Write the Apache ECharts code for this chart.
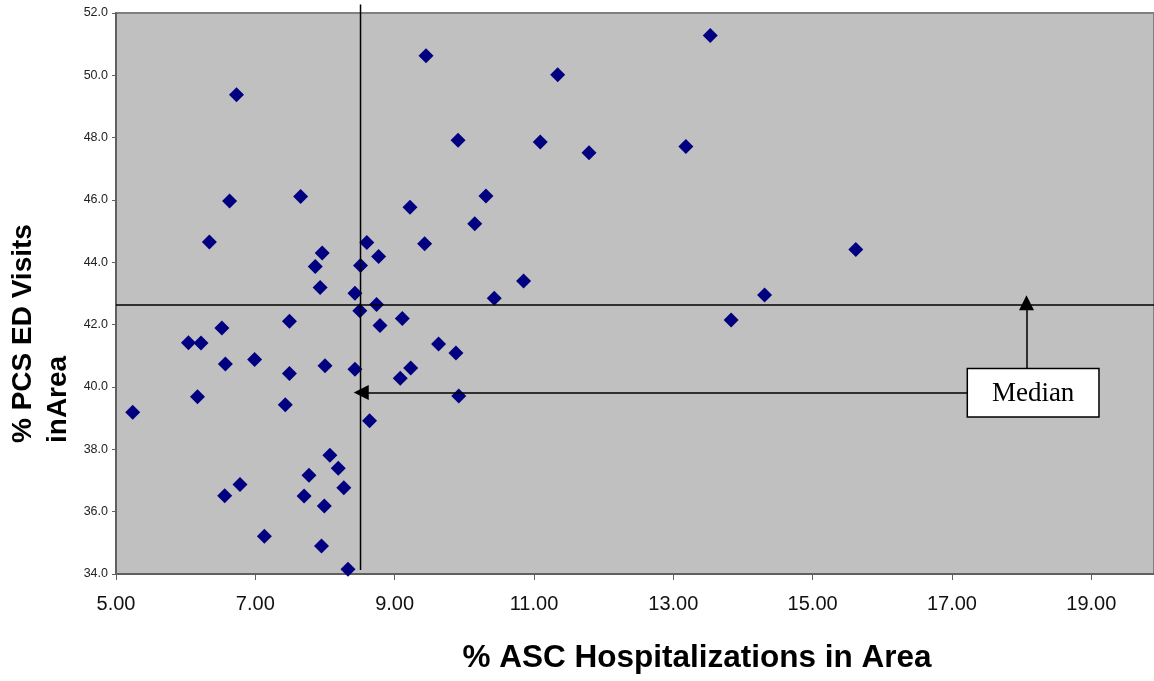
<!DOCTYPE html>
<html>
<head>
<meta charset="utf-8">
<script src="https://cdn.jsdelivr.net/npm/echarts@6/dist/echarts.min.js"></script>
<style>html,body{margin:0;padding:0;background:#fff;}#c{width:1154px;height:681px;}</style>
</head>
<body>
<div id="c"></div>
<script>
const xVals = [6.73,6.63,7.65,6.34,7.96,7.86,7.93,8.60,8.51,8.77,8.43,13.53,9.45,11.34,9.91,11.09,11.79,13.18,10.31,9.22,
  10.15,9.43,10.85,14.31,10.43,15.62,8.74,8.50,8.79,7.49,6.52,6.04,6.22,6.57,6.99,8.00,8.43,7.49,9.08,6.17,
  5.24,7.43,8.64,8.07,8.19,7.77,6.78,6.56,7.70,8.27,7.99,7.13,7.95,8.33,9.11,9.63,9.88,9.23,9.92,13.83];
const yVals = [49.38,45.97,46.11,44.65,44.30,43.87,43.19,44.64,43.90,44.19,43.01,51.28,50.63,50.02,47.92,47.86,47.52,47.72,46.13,45.77,
  45.24,44.60,43.40,42.95,42.85,44.41,42.65,42.45,41.97,42.11,41.89,41.42,41.41,40.74,40.88,40.68,40.57,40.43,40.28,39.69,
  39.19,39.43,38.92,37.81,37.39,37.17,36.87,36.51,36.50,36.77,36.18,35.21,34.90,34.15,42.20,41.38,41.09,40.61,39.71,42.15];
const medianX = 8.51;
const medianY = 42.645;
const xMin = 5, xMax = 19.9, xStep = 2;
const yMin = 34, yMax = 52, yStep = 2;
const xAxisTitle = '% ASC Hospitalizations in Area';
const yAxisTitle = '% PCS ED Visits\ninArea';
const noteText = 'Median';
// annotation anchors in data coordinates
const noteBox = {x1: 17.22, x2: 19.11, y1: 40.59, y2: 39.04};
const hArrow = {from: [17.22, 39.82], to: [8.52, 39.82]};
const vArrow = {from: [18.07, 40.59], to: [18.07, 42.70]};

const points = xVals.map((x, i) => [x, yVals[i]]);
const FONT = "'Liberation Sans', Arial, sans-serif";

const chart = echarts.init(document.getElementById('c'), null, {renderer: 'canvas'});
chart.setOption({
  backgroundColor: '#ffffff',
  animation: false,
  grid: {left: 116, top: 13, bottom: 107, right: 0, show: true,
    backgroundColor: '#c0c0c0', borderColor: '#808080', borderWidth: 2},
  xAxis: {type: 'value', min: xMin, max: xMax, interval: xStep,
    axisLine: {show: true, onZero: false, lineStyle: {color: '#606060', width: 2}},
    axisTick: {show: true, inside: false, length: 6, lineStyle: {color: '#606060', width: 1}},
    axisLabel: {margin: 20, fontSize: 20, color: '#111', fontFamily: FONT, showMaxLabel: false,
      formatter: v => v.toFixed(2)},
    splitLine: {show: false}},
  yAxis: {type: 'value', min: yMin, max: yMax, interval: yStep,
    axisLine: {show: true, onZero: false, lineStyle: {color: '#606060', width: 2}},
    axisTick: {show: true, inside: false, length: 4, lineStyle: {color: '#606060', width: 1}},
    axisLabel: {margin: 8, fontSize: 12.5, color: '#222', fontFamily: FONT,
      formatter: v => v.toFixed(1)},
    splitLine: {show: false}},
  series: [
    {type: 'scatter', data: points, symbol: 'diamond', symbolSize: 15,
      itemStyle: {color: '#000080', opacity: 1}, z: 3,
      markLine: {silent: true, animation: false, label: {show: false},
        lineStyle: {color: '#000', width: 1.5, type: 'solid'},
        data: [
          [{coord: [xMin, medianY], symbol: 'none'}, {coord: [xMax, medianY], symbol: 'none'}],
          [{coord: hArrow.from, symbol: 'none'}, {coord: hArrow.to, symbol: 'triangle', symbolSize: [15, 15]}],
          [{coord: vArrow.from, symbol: 'none'}, {coord: vArrow.to, symbol: 'triangle', symbolSize: [15, 15]}]
        ]}},
    {type: 'line', data: [[medianX, 34.13], [medianX, 52.27]], clip: false, symbol: 'none',
      lineStyle: {color: '#000', width: 1.5}, z: 4, silent: true}
  ]
});

const p1 = chart.convertToPixel({gridIndex: 0}, [noteBox.x1, noteBox.y1]);
const p2 = chart.convertToPixel({gridIndex: 0}, [noteBox.x2, noteBox.y2]);
chart.setOption({
  graphic: [
    {type: 'rect', shape: {x: p1[0], y: p1[1], width: p2[0] - p1[0], height: p2[1] - p1[1]},
      style: {fill: '#fff', stroke: '#000', lineWidth: 1.5}, z: 100},
    {type: 'text', x: (p1[0] + p2[0]) / 2, y: (p1[1] + p2[1]) / 2 + 1, z: 101,
      style: {text: noteText, font: "27px 'Liberation Serif', 'Times New Roman', serif",
        fill: '#000', textAlign: 'center', textVerticalAlign: 'middle'}},
    {type: 'text', x: 697, y: 658, z: 101,
      style: {text: xAxisTitle, font: "bold 31.5px " + FONT, fill: '#000',
        textAlign: 'center', textVerticalAlign: 'middle'}},
    {type: 'text', x: 41, y: 443, rotation: Math.PI / 2, z: 101,
      style: {text: yAxisTitle, font: "bold 28px " + FONT, fill: '#000', lineHeight: 35,
        textAlign: 'left', textVerticalAlign: 'middle'}}
  ]
});
</script>
</body>
</html>
